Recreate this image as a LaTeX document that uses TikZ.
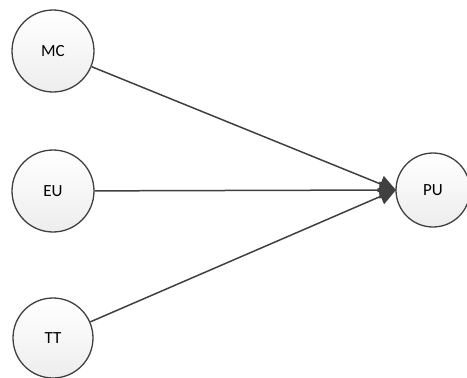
\documentclass[tikz,border=0pt]{standalone}
\usepackage{fontspec}
\setmainfont{Carlito}
\usetikzlibrary{arrows.meta}
\definecolor{edgegray}{HTML}{404040}
\tikzset{
  concept/.style={circle, draw=edgegray, line width=1.3pt, top color=white, bottom color=black!7,
    minimum size=#1, inner sep=0pt, font=\fontsize{17}{20}\selectfont},
  link/.style={draw=edgegray, line width=1.5pt, -{Triangle[length=17pt,width=17pt]}, shorten >=-1pt}
}
\begin{document}
\begin{tikzpicture}[x=1pt, y=-1pt]
  \useasboundingbox (0,0) rectangle (467,378);
  \node[concept=82pt] (mc) at (53,51) {MC};
  \node[concept=82pt] (eu) at (53,191) {EU};
  \node[concept=80pt] (tt) at (53,338) {TT};
  \node[concept=74pt] (pu) at (433,190) {PU};
  \draw[link] (mc) -- (pu.west);
  \draw[link] (eu) -- (pu.west);
  \draw[link] (tt) -- (pu.west);
\end{tikzpicture}
\end{document}
